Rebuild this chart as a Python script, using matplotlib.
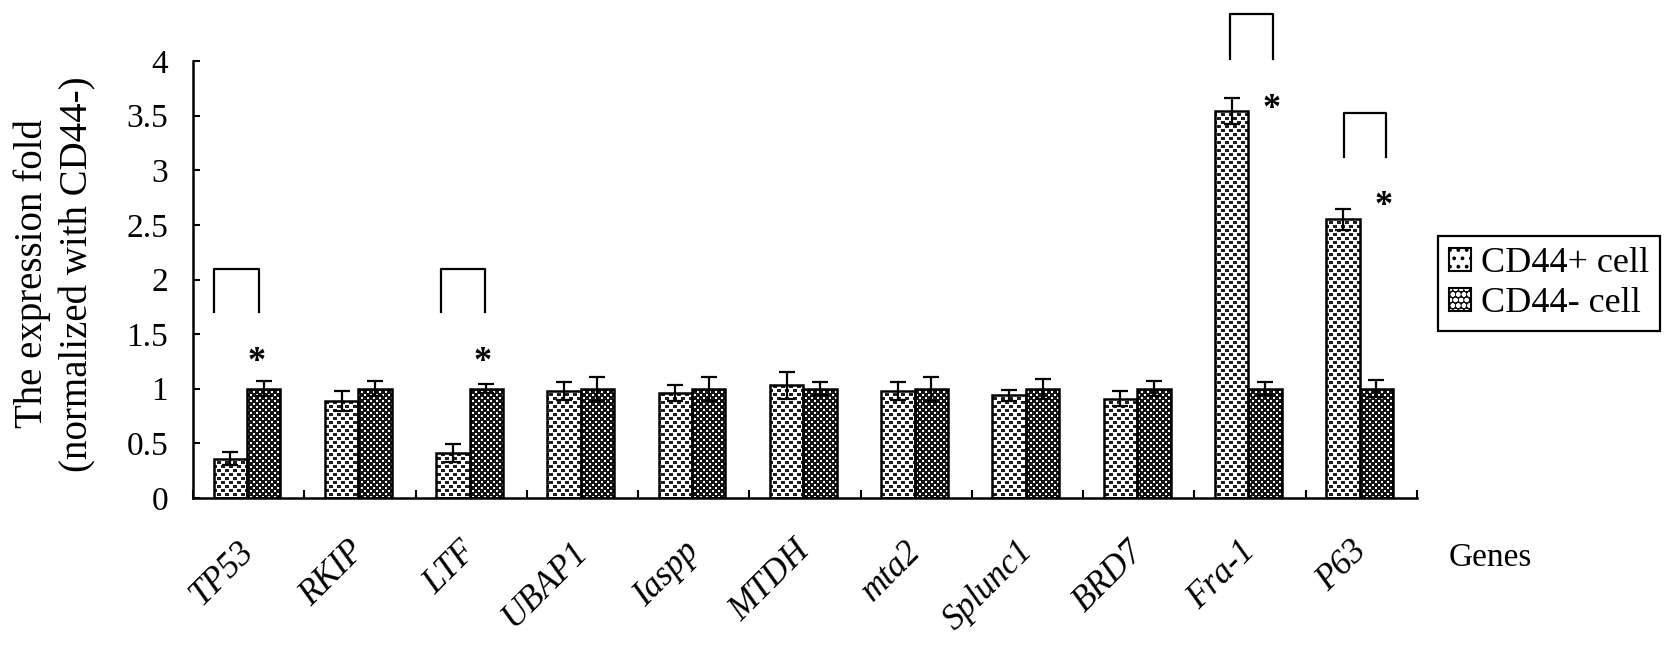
import numpy as np
import matplotlib
matplotlib.use('Agg')
import matplotlib.pyplot as plt
from matplotlib.patches import Patch
from matplotlib.path import Path
from matplotlib.legend_handler import HandlerTuple

plt.rcParams['font.family'] = ['Liberation Serif', 'DejaVu Serif']
plt.rcParams['hatch.linewidth'] = 1.5

# ---------------- data ----------------
genes = ['TP53', 'RKIP', 'LTF', 'UBAP1', 'Iaspp', 'MTDH', 'mta2',
         'Splunc1', 'BRD7', 'Fra-1', 'P63']
cd44_pos = [0.36, 0.89, 0.41, 0.98, 0.96, 1.03, 0.98, 0.94, 0.91, 3.54, 2.55]
cd44_pos_err = [0.06, 0.09, 0.08, 0.085, 0.07, 0.12, 0.085, 0.05, 0.065, 0.12, 0.095]
cd44_neg = [1.0, 1.0, 1.0, 1.0, 1.0, 1.0, 1.0, 1.0, 1.0, 1.0, 1.0]
cd44_neg_err = [0.07, 0.07, 0.04, 0.11, 0.11, 0.06, 0.11, 0.09, 0.07, 0.06, 0.08]
series_labels = ['CD44+ cell', 'CD44- cell']
yticks = [0, 0.5, 1, 1.5, 2, 2.5, 3, 3.5, 4]
ytick_labels = ['0', '0.5', '1', '1.5', '2', '2.5', '3', '3.5', '4']
ylabel = 'The expression fold\n(normalized with CD44-)'
xlabel = 'Genes'

# significance annotations (genes marked with *)
sig_genes = ['TP53', 'LTF', 'Fra-1', 'P63']
sig_bracket_low = [1.70, 1.70, 4.02, 3.12]
sig_bracket_high = [2.10, 2.10, 4.43, 3.52]
sig_star_y = [1.33, 1.33, 3.64, 2.76]
# horizontal placement relative to the gene's category centre
sig_left_off = [-0.31, -0.27, -0.18, -0.16]
sig_right_off = [0.09, 0.12, 0.21, 0.22]
sig_star_off = [0.07, 0.10, 0.195, 0.20]

# ---------------- figure ----------------
W_PX, H_PX = 1677, 653
fig = plt.figure(figsize=(W_PX / 100, H_PX / 100), dpi=100)
ax = fig.add_axes([193 / W_PX, 1 - 498 / H_PX, (1417 - 193) / W_PX, (498 - 61) / H_PX])

x = np.arange(len(genes))
bw = 0.30
off_pos, off_neg = -0.165, 0.135

bars_pos = ax.bar(x + off_pos, cd44_pos, bw, facecolor='none',
                  edgecolor='black', linewidth=1.8, zorder=3)
bars_neg = ax.bar(x + off_neg, cd44_neg, bw, facecolor='none',
                  edgecolor='black', linewidth=1.8, zorder=3)

ax.errorbar(x + off_pos, cd44_pos, yerr=cd44_pos_err, fmt='none',
            ecolor='black', elinewidth=1.6, capsize=6, capthick=1.6, zorder=4)
ax.errorbar(x + off_neg, cd44_neg, yerr=cd44_neg_err, fmt='none',
            ecolor='black', elinewidth=1.6, capsize=6, capthick=1.6, zorder=4)

xlim = (-0.5, len(genes) - 0.5)
ylim = (0, 4)

# texture fills (pixel patterns) clipped to the bars
bb = ax.get_window_extent()
Wt, Ht = int(round(bb.width)), int(round(bb.height))
yy, xx = np.mgrid[0:Ht, 0:Wt]
c = 4
inside = ((yy % c) < 3)
dark = (((xx // c) + (yy // c)) % 2 == 0) & inside
tex_pos = np.ones((Ht, Wt, 3))
tex_pos[dark] = 0.12
shift = ((yy // 3) % 2) * 3
dots = (((xx + shift) % 6) < 2) & ((yy % 3) < 2)
tex_neg = np.full((Ht, Wt, 3), 0.08)
tex_neg[dots] = 1.0

for tex, bars in ((tex_pos, bars_pos), (tex_neg, bars_neg)):
    im = ax.imshow(tex, extent=(xlim[0], xlim[1], ylim[0], ylim[1]),
                   origin='upper', interpolation='nearest', aspect='auto', zorder=2)
    paths = [b.get_path().transformed(b.get_patch_transform()) for b in bars]
    im.set_clip_path(Path.make_compound_path(*paths), ax.transData)

ax.set_xlim(*xlim)
ax.set_ylim(*ylim)

# axes styling
for s in ('top', 'right'):
    ax.spines[s].set_visible(False)
for s in ('left', 'bottom'):
    ax.spines[s].set_linewidth(1.8)

ax.set_yticks(yticks)
ax.set_yticklabels(ytick_labels)
ax.tick_params(axis='y', direction='in', length=5, width=1.5, labelsize=24, pad=18)

ax.set_xticks(x)
ax.set_xticklabels(genes, rotation=45, ha='right', va='center',
                   rotation_mode='anchor', fontstyle='italic', fontsize=25)
ax.tick_params(axis='x', which='major', length=0, pad=35)
ax.set_xticks(np.arange(len(genes) + 1) - 0.5, minor=True)
ax.tick_params(axis='x', which='minor', direction='in', length=6, width=1.5)

# significance brackets and stars
for g, lo, hi, sy, lo_off, hi_off, so in zip(sig_genes, sig_bracket_low, sig_bracket_high,
                                              sig_star_y, sig_left_off, sig_right_off,
                                              sig_star_off):
    i = genes.index(g)
    ax.plot([i + lo_off, i + lo_off, i + hi_off, i + hi_off], [lo, hi, hi, lo],
            color='black', linewidth=1.6, clip_on=False, zorder=5)
    ax.annotate('*', xy=(i + so, sy), xytext=(0, -13), textcoords='offset points',
                ha='center', va='baseline', fontsize=26, fontweight='bold',
                annotation_clip=False)

# axis titles
fig.text(55 / W_PX, 1 - 274 / H_PX, ylabel, rotation=90, ha='center', va='center',
         multialignment='center', fontsize=28, linespacing=1.3)
fig.text(1490 / W_PX, 1 - 558 / H_PX, xlabel, ha='center', va='center', fontsize=24)

# legend
h_pos = (Patch(facecolor='white', edgecolor='black', hatch='..', linewidth=1.5),)
h_neg = (Patch(facecolor='#151515', edgecolor='white', hatch='ooo', linewidth=0.01),
         Patch(facecolor='none', edgecolor='black', linewidth=1.5))
leg = fig.legend([h_pos, h_neg], series_labels,
                 handler_map={tuple: HandlerTuple(ndivide=1)},
                 loc='upper left', bbox_to_anchor=(1438 / W_PX, 1 - 236 / H_PX),
                 fontsize=26, frameon=True, fancybox=False, framealpha=1,
                 edgecolor='black', borderpad=0.3, handlelength=0.6,
                 handleheight=0.6, handletextpad=0.3, labelspacing=0.2,
                 borderaxespad=0)
leg.get_frame().set_linewidth(1.6)

fig.savefig('out.png', dpi=100, facecolor='white')
